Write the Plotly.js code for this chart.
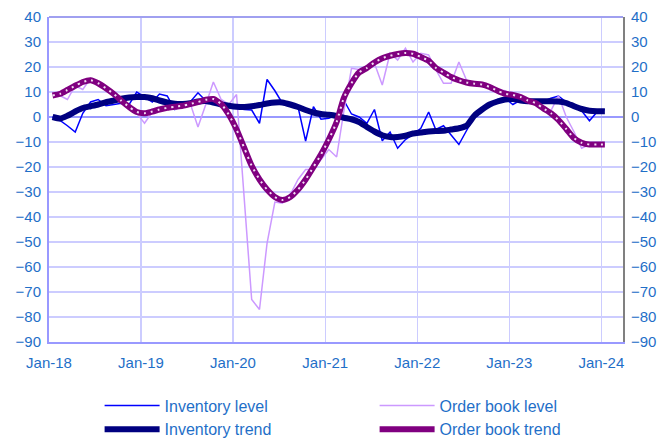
<!DOCTYPE html>
<html>
<head>
<meta charset="utf-8">
<script src="https://cdn.plot.ly/plotly-3.0.1.min.js"></script>
<style>html,body{margin:0;padding:0;background:#fff;}#chart{width:664px;height:439px;}</style>
</head>
<body>
<div id="chart"></div>
<script>
// Monthly observations, Jan-18 .. Jan-24 (plotted mid-month)
const startYear = 2018, nMonths = 73;
const months = [];
for (let i = 0; i < nMonths; i++) {
  const y = startYear + Math.floor(i / 12), m = (i % 12) + 1;
  months.push(y + '-' + String(m).padStart(2, '0') + '-15');
}

const inventoryLevel = [
  0, -1.5, -3.5, -6, 1.5, 6, 7, 4.5, 5, 5.5, 5, 10,
  8, 6, 9.2, 8.4, 3, 4.5, 6, 9.7, 6.5, 6, 5, 4.5,
  3.5, 3, 2.8, -2.5, 15, 10.5, 5.5, 5, 4, -9.6, 4.1, -0.9,
  -0.5, 0.8, 6.8, 1.2, 0, -2.5, 3, -9.5, -6, -12.5, -9, -7,
  -4.5, 2, -5, -3.5, -7, -11, -5.5, 0, 3, 5, 7, 7.5,
  5, 6.8, 6.2, 6, 6.2, 7.5, 8.4, 6, 4, 2.5, -1.5, 2,
  3
];

const orderBookLevel = [
  9, 8.5, 7, 12.5, 11, 15.5, 13, 12, 9.5, 6.5, 4, 1.5,
  -2.5, 2, 3, 3.5, 3, 4, 5.5, -4, 5, 14, 7, 5,
  9, -32, -73, -77, -50.5, -34, -34.5, -31, -25, -21, -21, -17,
  -13, -16, 2, 19.5, 19, 20, 21.5, 12.8, 25.5, 22.8, 27.5, 22,
  25.5, 24.8, 19, 13.5, 13.5, 22, 14.8, 13.5, 13, 12, 11, 10.5,
  9, 8, 6.5, 5.5, 3, 2.5, 8.5, 0, -6, -12.5, -11, -11,
  -11
];

const inventoryTrend = [
  0, -0.6, 0.5, 2.2, 3.6, 4.3, 5, 5.9, 6.6, 7.3, 7.8, 8,
  8, 7.5, 6.6, 5.8, 5.3, 5.2, 5.5, 6.2, 6.4, 5.8, 5, 4.5,
  4.1, 4, 4.3, 4.8, 5.4, 5.8, 5.8, 5, 4, 2.8, 1.8, 1.2,
  0.9, 0.4, -0.3, -0.9, -2, -4, -5.8, -7.3, -8, -8, -7.5, -6.6,
  -6.2, -5.8, -5.6, -5.5, -5, -4.5, -3.5, 0.5, 3, 5, 6.2, 7,
  7.2, 6.6, 6.3, 6.3, 6.3, 6.3, 6.2, 5.6, 4.3, 3.2, 2.5, 2.3,
  2.3
];

const orderBookTrend = [
  8.6, 9.3, 10.8, 12.5, 14, 14.7, 13.5, 11.5, 9.2, 6.5, 4, 2,
  1.5, 2.2, 3, 3.7, 4.1, 4.5, 5.2, 6, 6.9, 7.2, 5.2, 1,
  -5, -12.5, -19.5, -25, -29, -32, -33.2, -32, -29, -25, -20, -15,
  -9, -2, 7.5, 13.5, 17.8, 19.6, 21.8, 23.5, 24.5, 25.2, 25.6, 25.3,
  24, 22.5, 19.7, 17.8, 16, 14.7, 13.8, 13.3, 13, 12, 10.5, 9.3,
  8.8, 8, 6.6, 5.6, 3.5, 1.5, -1.2, -4.8, -8.5, -10.3, -11, -11,
  -11
];

const seriesNames = ['Inventory level', 'Order book level', 'Inventory trend', 'Order book trend'];
const yTicks = [40, 30, 20, 10, 0, -10, -20, -30, -40, -50, -60, -70, -80, -90];

const textColor = '#1F6FC8';
const fontFamily = 'Liberation Sans, Arial, sans-serif';
const dotColor = '#F2DDF2';
const dotDash = '2px,5px';

const traces = [
  {x: months, y: inventoryLevel, name: seriesNames[0], type: 'scatter', mode: 'lines',
   line: {color: '#0000FF', width: 1.5}},
  {x: months, y: orderBookLevel, name: seriesNames[1], type: 'scatter', mode: 'lines',
   line: {color: '#CC99FF', width: 1.5}},
  {x: months, y: inventoryTrend, name: seriesNames[2], type: 'scatter', mode: 'lines',
   line: {color: '#000080', width: 6, shape: 'spline', smoothing: 0.6}},
  {x: months, y: orderBookTrend, name: seriesNames[3], type: 'scatter', mode: 'lines',
   legendgroup: 'ob', line: {color: '#800080', width: 6, shape: 'spline', smoothing: 0.6}},
  {x: months, y: orderBookTrend, name: seriesNames[3], type: 'scatter', mode: 'lines',
   legendgroup: 'ob', showlegend: false, hoverinfo: 'skip',
   line: {color: dotColor, width: 2, dash: dotDash, shape: 'spline', smoothing: 0.6}},
  {x: [months[0]], y: [null], yaxis: 'y2', showlegend: false, hoverinfo: 'skip', type: 'scatter', mode: 'lines'}
];

const axisFont = {family: fontFamily, size: 15, color: textColor};

const layout = {
  width: 664, height: 439,
  margin: {l: 49, r: 41, t: 17, b: 97, pad: 0},
  paper_bgcolor: '#FFFFFF', plot_bgcolor: '#FFFFFF',
  showlegend: true,
  xaxis: {
    type: 'date', range: ['2018-01-01', '2024-03-27'], autorange: false,
    tick0: '2018-01-01', dtick: 'M12', tickformat: '%b-%y',
    showgrid: true, gridcolor: '#CCCCFF', gridwidth: 1.5,
    showline: true, linecolor: '#9999FF', linewidth: 2,
    ticks: '', tickfont: axisFont, ticklabelstandoff: 6, zeroline: false
  },
  yaxis: {
    range: [-90, 40], autorange: false, tickvals: yTicks,
    showgrid: true, gridcolor: '#CCCCFF', gridwidth: 1.5,
    zeroline: true, zerolinecolor: '#9999FF', zerolinewidth: 1.5,
    showline: true, linecolor: '#9999FF', linewidth: 2,
    ticks: '', tickfont: axisFont, ticklabelstandoff: 3
  },
  yaxis2: {
    overlaying: 'y', side: 'right',
    range: [-90, 40], autorange: false, tickvals: yTicks,
    showgrid: false, zeroline: false,
    showline: true, linecolor: '#808080', linewidth: 2,
    ticks: '', tickfont: axisFont, ticklabelstandoff: 3
  },
  shapes: [
    {type: 'line', xref: 'paper', yref: 'paper', x0: 0, x1: 1, y0: 1, y1: 1,
     line: {color: '#A0A0F0', width: 2}},
    // white dotted overlay on the "Order book trend" legend swatch
    {type: 'line', xref: 'paper', yref: 'paper', layer: 'above',
     x0: 0.578, x1: 0.666, y0: -0.2705, y1: -0.2705,
     line: {color: dotColor, width: 2, dash: dotDash}}
  ],
  legend: {
    orientation: 'h', xref: 'container', yref: 'container',
    x: 0.15, xanchor: 'left', y: 0.115, yanchor: 'top',
    font: {family: fontFamily, size: 16, color: textColor},
    entrywidth: 205, entrywidthmode: 'pixels', itemwidth: 55,
    bgcolor: 'rgba(0,0,0,0)', traceorder: 'normal'
  }
};

Plotly.newPlot('chart', traces, layout, {displayModeBar: false, staticPlot: true});
</script>
</body>
</html>
